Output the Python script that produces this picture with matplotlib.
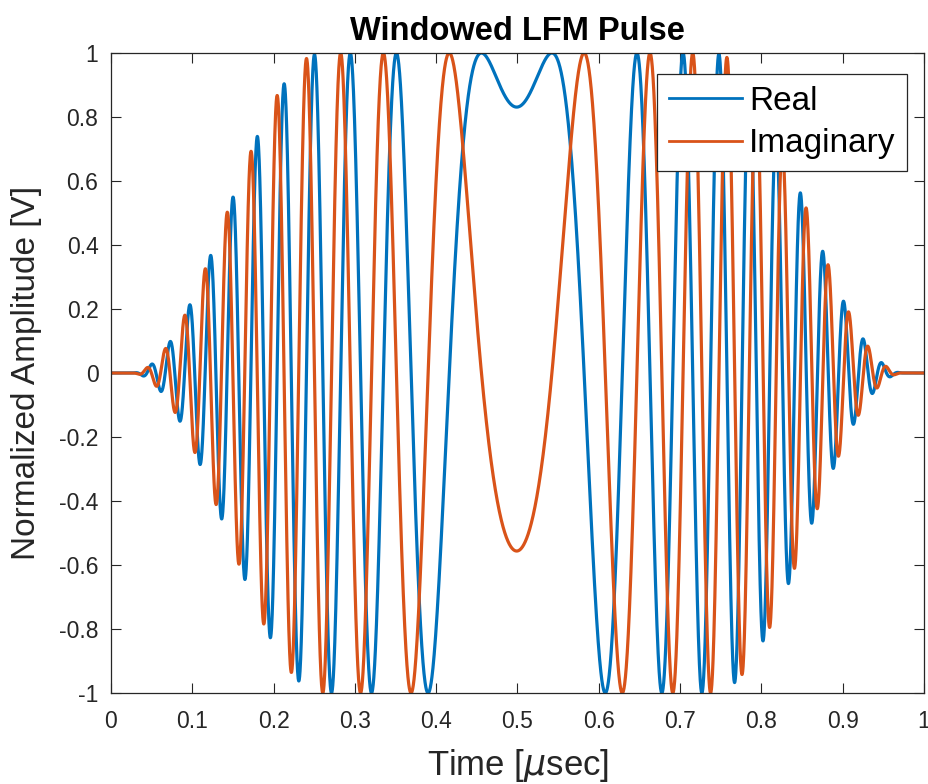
import numpy as np
import matplotlib
matplotlib.use("Agg")
import matplotlib.pyplot as plt

# ---- chart data ----
title = "Windowed LFM Pulse"
series_names = ["Real", "Imaginary"]
x_ticks = [0, 0.1, 0.2, 0.3, 0.4, 0.5, 0.6, 0.7, 0.8, 0.9, 1]
y_ticks = [-1, -0.8, -0.6, -0.4, -0.2, 0, 0.2, 0.4, 0.6, 0.8, 1]
x_tick_labels = ["0", "0.1", "0.2", "0.3", "0.4", "0.5", "0.6", "0.7", "0.8", "0.9", "1"]
y_tick_labels = ["-1", "-0.8", "-0.6", "-0.4", "-0.2", "0", "0.2", "0.4", "0.6", "0.8", "1"]

# LFM pulse parameters
pulse_start_us = 0.025      # window begins
pulse_end_us = 0.975        # window ends
taper_fraction = 0.495      # Tukey taper fraction
chirp_rate_mhz_per_us = 100.0
chirp_center_us = 0.499
phase_offset_rad = -0.59
n_samples = 4001

# ---- build the signal ----
t = np.linspace(0, 1, n_samples)
L = pulse_end_us - pulse_start_us
u = (t - pulse_start_us) / L
w = np.zeros_like(t)
a = taper_fraction / 2
m1 = (u >= 0) & (u < a)
m2 = (u >= a) & (u <= 1 - a)
m3 = (u > 1 - a) & (u <= 1)
w[m1] = 0.5 * (1 - np.cos(np.pi * u[m1] / a))
w[m2] = 1.0
w[m3] = 0.5 * (1 - np.cos(np.pi * (1 - u[m3]) / a))
phase = phase_offset_rad + np.pi * chirp_rate_mhz_per_us * (t - chirp_center_us) ** 2
real_part = w * np.cos(phase)
imag_part = w * np.sin(phase)

# ---- plot ----
plt.rcParams['font.family'] = ['Liberation Sans', 'DejaVu Sans']
W, H = 929, 784
fig = plt.figure(figsize=(W / 100, H / 100), dpi=100)
ax_l, ax_r, ax_t, ax_b = 111, 924, 53, 693
ax = fig.add_axes([ax_l / W, 1 - ax_b / H, (ax_r - ax_l) / W, (ax_b - ax_t) / H])

blue = "#0072BD"
orange = "#D95319"
ax.plot(t, real_part, color=blue, lw=2.3, label=series_names[0])
ax.plot(t, imag_part, color=orange, lw=2.3, label=series_names[1])

ax.set_xlim(0, 1)
ax.set_ylim(-1, 1)
ax.set_xticks(x_ticks)
ax.set_xticklabels(x_tick_labels)
ax.set_yticks(y_ticks)
ax.set_yticklabels(y_tick_labels)
ax.tick_params(direction='in', top=True, right=True, length=7, width=0.8,
               labelsize=16.5, colors='#262626', labelcolor='#262626')
ax.tick_params(axis='x', pad=12)
ax.tick_params(axis='y', pad=9)
for s in ax.spines.values():
    s.set_color('#262626')
    s.set_linewidth(0.9)

ax.set_title(title, fontsize=23.5, fontweight='bold', pad=0, y=1.0 + (53 - 40) / (ax_b - ax_t),
             va='baseline')
ax.set_xlabel(r"Time [$\mu$sec]", fontsize=25, color='#262626')
ax.xaxis.set_label_coords(0.5, -(765 - ax_b) / (ax_b - ax_t))
ax.xaxis.label.set_va('center')
ax.set_ylabel("Normalized Amplitude [V]", fontsize=24, color='#262626')
ax.yaxis.set_label_coords(-(ax_l - 27) / (ax_r - ax_l), 0.5)
ax.yaxis.label.set_va('center')

leg = ax.legend(loc='upper right',
                bbox_to_anchor=((907 - ax_l) / (ax_r - ax_l), 1 - (74 - ax_t) / (ax_b - ax_t)),
                fontsize=24, frameon=True, fancybox=False, edgecolor='#262626', framealpha=1,
                handlelength=2.2, handletextpad=0.2, borderpad=0.35, labelspacing=0.35,
                borderaxespad=0)
leg.get_frame().set_linewidth(0.9)
for line in leg.get_lines():
    line.set_linewidth(2.0)

fig.savefig("out.png", dpi=100)
